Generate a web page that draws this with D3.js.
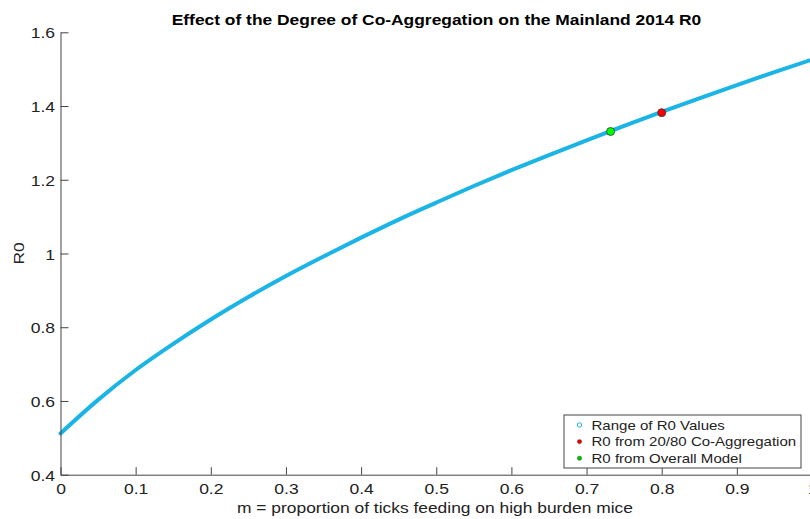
<!DOCTYPE html>
<html><head><meta charset="utf-8">
<script src="https://cdn.jsdelivr.net/npm/d3@7"></script>
<style>
html,body{margin:0;padding:0;background:#fff;overflow:hidden;}
svg{display:block;font-family:"Liberation Sans",Arial,Helvetica,sans-serif;}
</style></head>
<body>
<svg id="chart" width="810" height="519"></svg>
<script>
// ---- data ----
const mValues = [0,0.05,0.10,0.15,0.20,0.25,0.30,0.35,0.40,0.45,0.50,0.55,0.60,0.65,0.70,0.75,0.80,0.85,0.90,0.95,1.00];
const r0Values = [0.512,0.603,0.684,0.755,0.821,0.882,0.939,0.992,1.043,1.092,1.138,1.183,1.226,1.267,1.307,1.346,1.384,1.421,1.457,1.492,1.526];
const coAggPoint = [0.80, 1.382];
const overallPoint = [0.732, 1.331];
const xTicks = [0,0.1,0.2,0.3,0.4,0.5,0.6,0.7,0.8,0.9,1];
const yTicks = [0.4,0.6,0.8,1,1.2,1.4,1.6];
const legendLabels = ["Range of R0 Values","R0 from 20/80 Co-Aggregation","R0 from Overall Model"];
const titleText = "Effect of the Degree of Co-Aggregation on the Mainland 2014 R0";
const xLabel = "m = proportion of ticks feeding on high burden mice";
const yLabel = "R0";

const svg = d3.select("#chart");
const L = 60.5, R = 812, T = 32.3, B = 474.7;
const x = d3.scaleLinear().domain([0,1]).range([L,R]);
const y = d3.scaleLinear().domain([0.4,1.6]).range([B,T]);
const axisColor = "#444";
const lineColor = "#1bb4e6";
const STRETCH = 1.13;
function stretch(sel){
  sel.each(function(){
    const w = this.getComputedTextLength();
    d3.select(this).attr("textLength", w*STRETCH).attr("lengthAdjust","spacingAndGlyphs");
  });
}

// curve
const pts = mValues.map((m,i)=>[m,r0Values[i]]);
svg.append("path")
  .datum(pts)
  .attr("fill","none")
  .attr("stroke",lineColor)
  .attr("stroke-width",4)
  .attr("stroke-linecap","round")
  .attr("d", d3.line().x(d=>x(d[0])).y(d=>y(d[1])).curve(d3.curveMonotoneX));

// axes
const xAxis = d3.axisBottom(x).tickValues(xTicks).tickSizeInner(-7.5).tickSizeOuter(0)
  .tickFormat(d=>d3.format("")(d));
const gx = svg.append("g").attr("transform",`translate(0,${B})`).call(xAxis);
const yAxis = d3.axisLeft(y).tickValues(yTicks).tickSizeInner(-8).tickSizeOuter(0)
  .tickFormat(d=>d3.format("")(d));
const gy = svg.append("g").attr("transform",`translate(${L},0)`).call(yAxis);
[gx,gy].forEach(g=>{
  g.select(".domain").attr("stroke",axisColor).attr("stroke-width",1);
  g.selectAll(".tick line").attr("stroke",axisColor).attr("stroke-width",1);
  g.selectAll(".tick text").attr("fill","#222").style("font-size","15.5px")
   .style("font-family","'Liberation Sans',Arial,Helvetica,sans-serif");
});
gx.selectAll(".tick text").attr("dy",null).attr("y",19);
gy.selectAll(".tick text").attr("x",-5.5).attr("dy","0.36em");
stretch(gx.selectAll(".tick text"));
stretch(gy.selectAll(".tick text"));

// points
[[coAggPoint,"#ff0000"],[overallPoint,"#00ff00"]].forEach(([p,c])=>{
  svg.append("circle").attr("cx",x(p[0])).attr("cy",y(p[1])).attr("r",4)
    .attr("fill",c).attr("stroke","#333").attr("stroke-width",0.8);
});

// title & labels
svg.append("text").attr("x",436.5).attr("y",24.5).attr("text-anchor","middle")
  .style("font-weight","bold").style("font-size","15.4px").attr("fill","#000").text(titleText).call(stretch);
svg.append("text").attr("x",435).attr("y",513).attr("text-anchor","middle")
  .style("font-size","15.4px").attr("fill","#222").text(xLabel).call(stretch);
svg.append("text").attr("transform",`translate(24,${(T+B)/2}) rotate(-90)`).attr("text-anchor","middle")
  .style("font-size","15.4px").attr("fill","#222").text(yLabel).call(stretch);

// legend
const lg = svg.append("g");
lg.append("rect").attr("x",564).attr("y",415).attr("width",237).attr("height",53)
  .attr("fill","#fff").attr("stroke","#444").attr("stroke-width",1);
const legendColors = [lineColor,"#e00000","#00c000"];
legendLabels.forEach((t,i)=>{
  const cy = 425 + i*16.6;
  const c = lg.append("circle").attr("cx",579.5).attr("cy",cy).attr("r",2.2);
  if(i===0) c.attr("fill","none").attr("stroke",legendColors[i]).attr("stroke-width",1);
  else c.attr("fill",legendColors[i]).attr("stroke","#333").attr("stroke-width",0.3);
  lg.append("text").attr("x",591.5).attr("y",cy).attr("dy","0.36em")
    .style("font-size","13.3px").attr("fill","#222").text(t).call(stretch);
});
</script>
</body></html>
